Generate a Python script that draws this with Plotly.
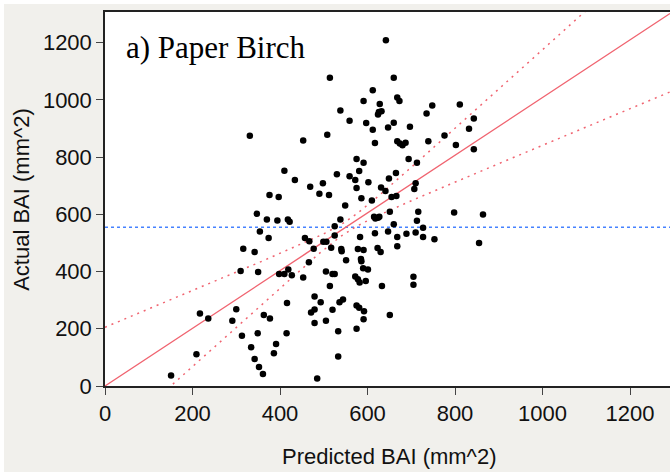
import numpy as np
import plotly.graph_objects as go

# Predicted vs actual basal area increment (mm^2)
predicted = [331, 453, 410, 434, 469, 376, 397, 490, 642, 514, 660, 612, 591, 628, 668, 673,
             538, 626, 632, 624, 559, 597, 660, 647, 612, 697, 735, 748, 811, 843, 832, 508,
             617, 668, 674, 680, 687, 739, 776, 802, 843, 575, 591, 694, 713, 530, 559, 581,
             572, 602, 649, 665, 710, 707, 575, 631, 641, 655, 666, 498, 512, 586, 610, 549,
             538, 525, 525, 499, 506, 477, 466, 517, 540, 541, 551, 505, 520, 525, 514, 479,
             493, 479, 471, 520, 505, 479, 533, 536, 544, 533, 485, 651, 615, 618, 624, 627,
             660, 647, 617, 583, 668, 689, 710, 713, 716, 727, 727, 753, 798, 855, 864, 668,
             578, 591, 623, 630, 585, 586, 590, 601, 572, 578, 582, 596, 633, 705, 705, 575,
             581, 592, 591, 651, 575, 347, 370, 394, 418, 422, 354, 374, 316, 342, 310, 350,
             398, 410, 419, 427, 453, 457, 467, 217, 236, 300, 291, 363, 377, 416, 415, 313,
             349, 391, 386, 334, 342, 352, 361, 209, 151]
actual = [874, 858, 752, 720, 696, 667, 660, 672, 1208, 1077, 1077, 1033, 996, 985, 1008, 996,
          963, 957, 960, 949, 927, 919, 920, 903, 895, 906, 952, 980, 984, 935, 899, 878,
          849, 855, 847, 841, 850, 855, 875, 842, 827, 793, 780, 793, 780, 740, 733, 751,
          720, 712, 725, 744, 708, 688, 692, 694, 681, 660, 664, 708, 667, 656, 648, 631,
          582, 558, 526, 504, 504, 480, 432, 483, 479, 471, 439, 400, 391, 391, 349, 313,
          293, 267, 257, 266, 228, 220, 191, 293, 302, 103, 26, 609, 591, 585, 588, 591,
          565, 540, 534, 521, 521, 532, 536, 577, 609, 553, 521, 513, 606, 500, 599, 488,
          479, 475, 482, 468, 444, 436, 411, 407, 383, 373, 362, 367, 349, 382, 354, 281,
          273, 261, 233, 248, 200, 602, 582, 578, 582, 574, 540, 517, 480, 468, 402, 398,
          391, 391, 407, 387, 379, 517, 506, 253, 236, 268, 228, 248, 236, 290, 184, 176,
          184, 147, 114, 135, 94, 66, 42, 111, 37]

# Fit line (actual = slope * predicted + intercept), mean of actual, confidence-curve parameters
fit_slope = 1.008
fit_intercept = 0.0
mean_actual = 555
conf_a = 20.0
conf_b = 0.37
conf_center = 552

x_tick_vals = [0, 200, 400, 600, 800, 1000, 1200]
y_tick_vals = [0, 200, 400, 600, 800, 1000, 1200]

X_MAX = 1291.4
Y_MAX = 1306.8

xs = np.linspace(0, X_MAX, 400)
fit = fit_slope * xs + fit_intercept
half = np.sqrt(conf_a ** 2 + (conf_b * (xs - conf_center)) ** 2)

line_red = "rgb(240,100,112)"
fig = go.Figure()
fig.add_trace(go.Scatter(x=xs, y=[mean_actual] * len(xs), mode="lines",
                         line=dict(color="rgb(70,130,255)", width=1.5, dash="3px,3px"),
                         hoverinfo="skip"))
fig.add_trace(go.Scatter(x=xs, y=fit + half, mode="lines",
                         line=dict(color=line_red, width=1.5, dash="2px,5px"), hoverinfo="skip"))
fig.add_trace(go.Scatter(x=xs, y=fit - half, mode="lines",
                         line=dict(color=line_red, width=1.5, dash="2px,5px"), hoverinfo="skip"))
fig.add_trace(go.Scatter(x=xs, y=fit, mode="lines",
                         line=dict(color=line_red, width=1.3), hoverinfo="skip"))
fig.add_trace(go.Scatter(x=predicted, y=actual, mode="markers",
                         marker=dict(color="black", size=6.5), cliponaxis=False))

font_sans = "Liberation Sans, Arial, sans-serif"
axis_common = dict(showgrid=False, zeroline=False, showline=True, linecolor="#222",
                   linewidth=1.5, ticks="outside", ticklen=7, tickwidth=1.2, tickcolor="#444",
                   tickfont=dict(family=font_sans, size=22, color="#111"))
fig.update_xaxes(range=[0, X_MAX], tickvals=x_tick_vals, mirror=True, **axis_common)
fig.update_yaxes(range=[0, Y_MAX], tickvals=y_tick_vals, **axis_common)

fig.update_layout(
    width=670, height=472,
    margin=dict(l=105, r=0, t=12, b=86),
    paper_bgcolor="#f1f0ec", plot_bgcolor="white",
    showlegend=False,
    shapes=[
        dict(type="rect", xref="paper", yref="paper", x0=-0.19, x1=1.01, y0=1.0214, y1=1.04,
             fillcolor="white", line=dict(width=0), layer="below"),
        dict(type="rect", xref="paper", yref="paper", x0=-0.19, x1=-0.1788, y0=-0.25, y1=1.04,
             fillcolor="white", line=dict(width=0), layer="below"),
    ],
    annotations=[
        dict(text="a) Paper Birch", xref="paper", yref="paper", x=0.0345, y=0.906,
             xanchor="left", yanchor="middle", showarrow=False,
             font=dict(family="Liberation Serif, Times New Roman, serif", size=31, color="black")),
        dict(text="Predicted BAI (mm^2)", xref="paper", yref="paper", x=0.5027, y=-0.1898,
             xanchor="center", yanchor="middle", showarrow=False,
             font=dict(family=font_sans, size=22, color="#111")),
        dict(text="Actual BAI (mm^2)", xref="paper", yref="paper", x=-0.149, y=0.5,
             xanchor="center", yanchor="middle", showarrow=False, textangle=-90,
             font=dict(family=font_sans, size=22, color="#111")),
    ],
)

fig.write_html("out.html", config={"displayModeBar": False},
               post_script="document.body.style.margin='0';document.body.style.overflow='hidden';")
